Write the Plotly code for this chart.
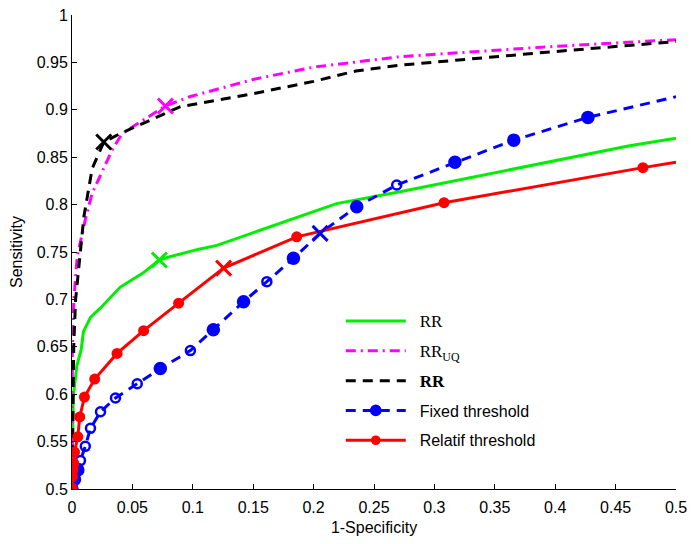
import plotly.graph_objects as go

# ---------------- data ----------------
rr_x = [0, 0.0005, 0.001, 0.004, 0.0076, 0.0095, 0.0153, 0.0236, 0.040, 0.059, 0.0723, 0.081, 0.105, 0.120, 0.219, 0.2715, 0.4616, 0.5]
rr_y = [0.5, 0.57, 0.597, 0.63, 0.647, 0.666, 0.681, 0.691, 0.713, 0.728, 0.7416, 0.745, 0.753, 0.757, 0.801, 0.8136, 0.862, 0.870]

uq_x = [0, 0.0003, 0.0015, 0.0043, 0.011, 0.0167, 0.0332, 0.0415, 0.0773, 0.098, 0.15, 0.2, 0.2715, 0.3955, 0.5]
uq_y = [0.5, 0.647, 0.70, 0.745, 0.784, 0.812, 0.8576, 0.875, 0.904, 0.914, 0.932, 0.945, 0.956, 0.9666, 0.974]

rrb_x = [0, 0.0015, 0.003, 0.007, 0.0098, 0.0167, 0.0236, 0.0263, 0.040, 0.0897, 0.15, 0.2, 0.235, 0.2715, 0.3955, 0.5]
rrb_y = [0.5, 0.654, 0.70, 0.752, 0.787, 0.838, 0.8576, 0.866, 0.875, 0.9033, 0.917, 0.930, 0.941, 0.947, 0.961, 0.972]

fix_x = [0, 0.002, 0.0048, 0.007, 0.011, 0.0153, 0.0236, 0.036, 0.054, 0.0731, 0.098, 0.117, 0.142, 0.1613, 0.1833, 0.2054, 0.2357, 0.2688, 0.317, 0.3657, 0.4271, 0.5]
fix_y = [0.5, 0.51, 0.52, 0.53, 0.545, 0.564, 0.5815, 0.596, 0.611, 0.627, 0.646, 0.668, 0.6976, 0.7187, 0.7434, 0.7697, 0.7978, 0.8207, 0.8446, 0.868, 0.892, 0.9138]
# marker kind per point: 1 = filled, 0 = open, -1 = none
fix_kind = [1, 1, 1, 0, 0, 0, 0, 0, 0, 1, 0, 1, 1, 0, 1, -1, 1, 0, 1, 1, 1, -1]

rel_x = [0, 0.0003, 0.0008, 0.0015, 0.0021, 0.0048, 0.0064, 0.0103, 0.0188, 0.0373, 0.0593, 0.0883, 0.1255, 0.186, 0.308, 0.4726, 0.5]
rel_y = [0.501, 0.513, 0.52, 0.527, 0.539, 0.555, 0.576, 0.597, 0.616, 0.643, 0.667, 0.696, 0.733, 0.766, 0.802, 0.839, 0.8446]
rel_dot = [1, 1, 1, 1, 1, 1, 1, 1, 1, 1, 1, 1, 0, 1, 1, 1, 0]

cross_x = [0.0723, 0.0773, 0.0263, 0.2054, 0.1255]
cross_y = [0.7416, 0.904, 0.866, 0.7697, 0.733]

x_ticks = [0, 0.05, 0.1, 0.15, 0.2, 0.25, 0.3, 0.35, 0.4, 0.45, 0.5]
y_ticks = [0.5, 0.55, 0.6, 0.65, 0.7, 0.75, 0.8, 0.85, 0.9, 0.95, 1]

GREEN = "#00ee00"
MAGENTA = "#ff00ff"
BLACK = "#000000"
BLUE = "#0000ff"
RED = "#ff0000"
COLORS = [GREEN, MAGENTA, BLACK, BLUE, RED]
SERIF = "Liberation Serif"
PAD = "&nbsp;&nbsp;"

fig = go.Figure()

fig.add_trace(go.Scatter(
    x=rr_x, y=rr_y, mode="lines", legendgroup="a",
    name=f'{PAD}<span style="font-family:{SERIF};font-size:17px">RR</span>',
    line=dict(color=GREEN, width=3)))

fig.add_trace(go.Scatter(
    x=uq_x, y=uq_y, mode="lines", legendgroup="b",
    name=f'{PAD}<span style="font-family:{SERIF};font-size:17px">RR<sub>UQ</sub></span>',
    line=dict(color=MAGENTA, width=3, dash="10px,5px,2px,5px")))

fig.add_trace(go.Scatter(
    x=rrb_x, y=rrb_y, mode="lines", legendgroup="c",
    name=f'{PAD}<span style="font-family:{SERIF};font-size:17px"><b>RR</b></span>',
    line=dict(color=BLACK, width=3, dash="10px,7px")))

fig.add_trace(go.Scatter(
    x=fix_x, y=fix_y, mode="lines+markers", legendgroup="d",
    name=f"{PAD}Fixed threshold",
    line=dict(color=BLUE, width=3, dash="10px,7px"),
    marker=dict(
        color=BLUE, opacity=1,
        symbol=["circle" if k == 1 else "circle-open" for k in fix_kind],
        size=[11 if k == 1 else (9 if k == 0 else 0) for k in fix_kind],
        line=dict(color=BLUE, width=2.5))))

fig.add_trace(go.Scatter(
    x=rel_x, y=rel_y, mode="lines+markers", legendgroup="e",
    name=f"{PAD}Relatif threshold",
    line=dict(color=RED, width=3),
    marker=dict(color=RED, symbol="circle", opacity=1,
                size=[11 if d else 0 for d in rel_dot],
                line=dict(width=0))))

fig.add_trace(go.Scatter(
    x=cross_x, y=cross_y, mode="markers", showlegend=False,
    marker=dict(symbol="x-thin-open", size=15, color=COLORS, opacity=1,
                line=dict(color=COLORS, width=3))))

fig.update_layout(
    width=680, height=528,
    margin=dict(l=64, r=12, t=7, b=47),
    paper_bgcolor="white", plot_bgcolor="white",
    font=dict(family="Liberation Sans", size=16, color="black"),
    showlegend=True,
    legend=dict(x=0.445, y=0.39, xanchor="left", yanchor="top",
                bgcolor="rgba(0,0,0,0)", tracegroupgap=6,
                font=dict(family="Liberation Sans", size=16),
                itemwidth=60),
    xaxis=dict(range=[0, 0.5], tickvals=x_ticks, ticktext=[f"{v:g}" for v in x_ticks],
               showgrid=False, zeroline=False, showline=True, linecolor="black",
               linewidth=1, ticks="inside", ticklen=5, tickcolor="black",
               automargin=False, ticklabeloverflow="allow", ticklabelstandoff=4,
               title=dict(text="1-Specificity", font=dict(size=16), standoff=6)),
    yaxis=dict(range=[0.5, 1], tickvals=y_ticks, ticktext=[f"{v:g}" for v in y_ticks],
               showgrid=False, zeroline=False, showline=True, linecolor="black",
               linewidth=1, ticks="inside", ticklen=5, tickcolor="black",
               automargin=False, ticklabeloverflow="allow",
               title=dict(text="Sensitivity", font=dict(size=16), standoff=13)),
)

fig.write_html("out.html")
